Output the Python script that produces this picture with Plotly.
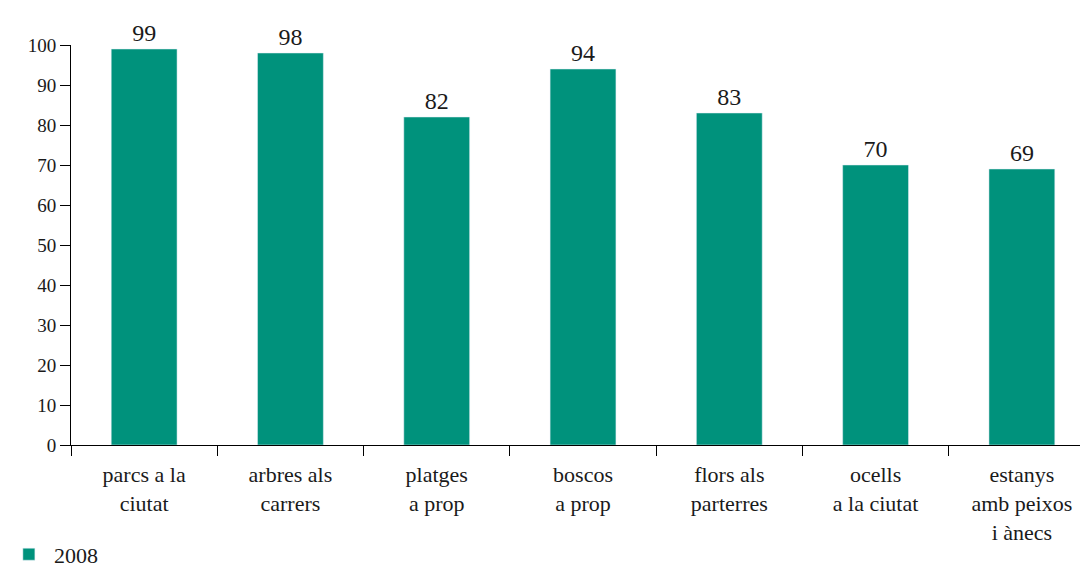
import plotly.graph_objects as go

categories = ["parcs a la<br>ciutat", "arbres als<br>carrers", "platges<br>a prop",
              "boscos<br>a prop", "flors als<br>parterres", "ocells<br>a la ciutat",
              "estanys<br>amb peixos<br>i ànecs"]
values_2008 = [99, 98, 82, 94, 83, 70, 69]
y_ticks = [0, 10, 20, 30, 40, 50, 60, 70, 80, 90, 100]

teal = "#00927c"
serif = "Liberation Serif"

fig = go.Figure()

fig.add_trace(go.Bar(
    x=categories, y=values_2008,
    name="2008",
    marker_color=teal,
    width=0.45,
    text=values_2008,
    textposition="outside",
    textfont=dict(family=serif, size=24, color="#1a1a1a"),
    cliponaxis=False,
))

# page body has an 8px margin, so the figure is made 8px smaller on each side
fig.update_layout(
    width=1080, height=561,
    plot_bgcolor="white", paper_bgcolor="white",
    font=dict(family=serif, color="#1a1a1a"),
    margin=dict(l=63, r=0, t=37, b=124, autoexpand=False),
    showlegend=True,
    legend=dict(orientation="h", x=-0.066, y=-0.221, xanchor="left", yanchor="top",
                font=dict(family=serif, size=22), itemwidth=40),
    bargap=0.55,
)

fig.update_xaxes(
    type="category", range=[-0.5, 6.452], automargin=False,
    showline=True, linecolor="black", linewidth=1,
    ticks="outside", tickson="boundaries", ticklen=10, tickcolor="black",
    ticklabelstandoff=10,
    tickfont=dict(family=serif, size=22), showgrid=False,
)
fig.update_yaxes(
    range=[0, 100], tickvals=y_ticks, automargin=False,
    showline=True, linecolor="black", linewidth=1,
    ticks="outside", ticklen=10, tickcolor="black", tickwidth=1,
    ticksuffix="\u00a0\u00a0\u00a0",
    tickfont=dict(family=serif, size=19), showgrid=False, zeroline=False,
)

fig.write_html("out.html")
